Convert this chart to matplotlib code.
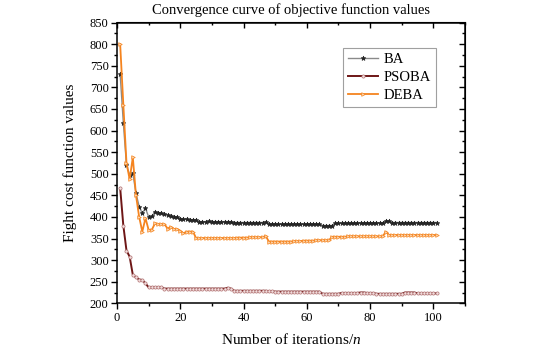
import numpy as np
import matplotlib
matplotlib.use("Agg")
import matplotlib.pyplot as plt
from matplotlib.ticker import MultipleLocator

plt.rcParams['font.family'] = ['Liberation Serif', 'DejaVu Serif']
plt.rcParams['mathtext.fontset'] = 'custom'
plt.rcParams['mathtext.it'] = 'Liberation Serif:italic'
plt.rcParams['mathtext.rm'] = 'Liberation Serif'

# iterations 1..101
iters = np.arange(1, 102)

ba = [730, 618, 520, 497, 501, 455, 424, 408, 420, 400,
      401, 412, 410, 408, 407, 405, 402, 400, 399, 396,
      394, 395, 393, 393, 392, 389, 389, 389, 390, 389,
      389, 389, 389, 389, 389, 389, 387, 387, 387, 387,
      387, 387, 387, 387, 387, 387, 389, 383, 383, 383,
      383, 383, 383, 383, 383, 383, 383, 383, 383, 383,
      383, 383, 383, 383, 380, 380, 380, 380, 385, 385,
      385, 385, 385, 385, 385, 386, 386, 386, 386, 386,
      386, 386, 386, 386, 391, 390, 387, 387, 387, 387,
      387, 387, 387, 387, 387, 387, 387, 387, 387, 387,
      387]

psoba = [467, 380, 322, 308, 266, 260, 255, 254, 246, 237,
         237, 237, 237, 237, 234, 234, 234, 234, 234, 234,
         234, 234, 234, 234, 234, 234, 234, 234, 234, 234,
         234, 234, 234, 234, 236, 234, 229, 229, 229, 229,
         229, 229, 229, 229, 229, 229, 229, 228, 228, 227,
         227, 227, 227, 227, 227, 227, 227, 227, 227, 227,
         227, 227, 227, 227, 222, 222, 222, 222, 222, 222,
         224, 224, 224, 224, 224, 224, 225, 225, 224, 224,
         224, 222, 222, 222, 222, 222, 222, 222, 222, 222,
         225, 225, 225, 225, 223, 223, 223, 223, 223, 223,
         223]

deba = [800, 660, 525, 487, 538, 450, 400, 366, 397, 370,
        370, 385, 383, 383, 383, 373, 377, 372, 372, 368,
        362, 366, 366, 366, 351, 351, 351, 351, 351, 351,
        351, 351, 351, 351, 351, 351, 351, 352, 352, 352,
        352, 353, 353, 353, 353, 353, 356, 343, 343, 343,
        343, 343, 343, 343, 343, 344, 344, 344, 345, 345,
        345, 345, 346, 346, 346, 346, 346, 354, 354, 354,
        354, 354, 355, 355, 355, 355, 355, 355, 355, 355,
        355, 355, 355, 355, 366, 358, 358, 358, 358, 358,
        358, 358, 358, 358, 358, 358, 358, 358, 358, 358,
        358]

fig = plt.figure(figsize=(5.41, 3.62), dpi=100)
ax = fig.add_axes([117 / 541, 1 - 303.3 / 362, (465 - 117) / 541, (303.3 - 22.5) / 362])

ax.plot(iters, ba, color='#8a8a8a', lw=1.0, marker='*', ms=3.5,
        mfc='#222222', mec='#222222', mew=0.5, label='BA')
ax.plot(iters, psoba, color='#6e1616', lw=1.4, marker='o', ms=2.3,
        mfc='#f2dede', mec='#b07070', mew=0.5, label='PSOBA')
ax.plot(iters, deba, color='#f5841f', lw=1.3, marker='>', ms=2.6,
        mfc='#fbd6b0', mec='#f5841f', mew=0.5, label='DEBA')

ax.set_xlim(0, 110)
ax.set_ylim(200, 850)
ax.xaxis.set_major_locator(MultipleLocator(20))
ax.xaxis.set_minor_locator(MultipleLocator(10))
ax.yaxis.set_major_locator(MultipleLocator(50))
ax.yaxis.set_minor_locator(MultipleLocator(25))
ax.set_xticks([0, 20, 40, 60, 80, 100])
ax.tick_params(which='major', direction='out', length=4, width=1, labelsize=9, pad=2)
ax.tick_params(which='minor', direction='out', length=2, width=1)
for s in ax.spines.values():
    s.set_linewidth(1.1)

# mirrored ticks on top and right, pointing inward
top = ax.secondary_xaxis('top')
top.xaxis.set_major_locator(MultipleLocator(20))
top.xaxis.set_minor_locator(MultipleLocator(10))
top.tick_params(which='major', direction='in', length=4, width=1, labeltop=False)
top.tick_params(which='minor', direction='in', length=2, width=1)
right = ax.secondary_yaxis('right')
right.yaxis.set_major_locator(MultipleLocator(50))
right.yaxis.set_minor_locator(MultipleLocator(25))
right.tick_params(which='major', direction='in', length=4, width=1, labelright=False)
right.tick_params(which='minor', direction='in', length=2, width=1)

ax.set_title('Convergence curve of objective function values', fontsize=10.5, pad=6)
ax.set_xlabel('Number of iterations/$n$', fontsize=11, labelpad=6)
ax.set_ylabel('Fight cost function values', fontsize=11, labelpad=9)

leg = ax.legend(loc='upper left', bbox_to_anchor=(0.648, 0.91), fontsize=10.5,
                frameon=True, fancybox=False, edgecolor='#888888',
                handlelength=2.1, handletextpad=0.35, borderpad=0.35,
                labelspacing=0.32, borderaxespad=0)
leg.get_frame().set_linewidth(0.8)

fig.savefig('out.png', dpi=100)
